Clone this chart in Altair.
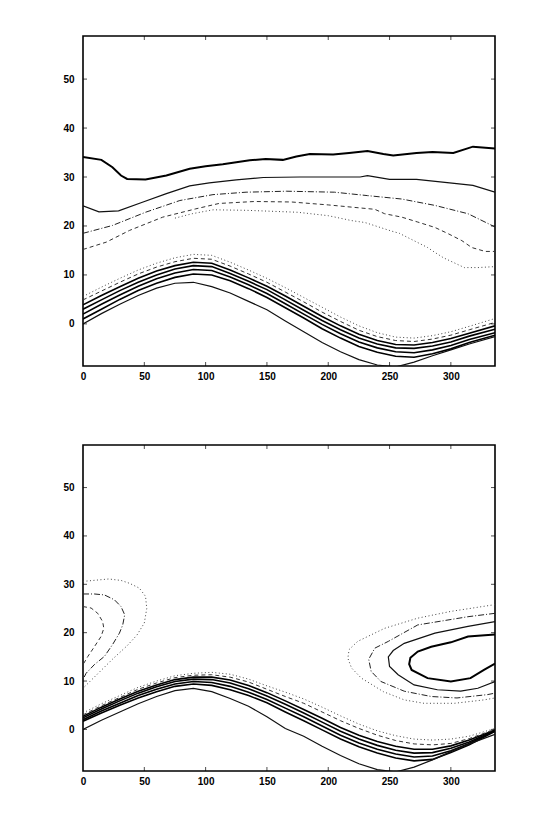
import altair as alt
import pandas as pd

# ---------------- data ----------------
XG = [0, 15, 30, 45, 60, 75, 90, 105, 120, 135, 150, 165, 180, 195, 210, 225, 240, 255, 270, 285, 300, 315, 336]
X_TICKS = [0, 50, 100, 150, 200, 250, 300]
Y_TICKS = [0, 10, 20, 30, 40, 50]

# top panel, upper contours
T_L1_X = [0, 15, 24, 31, 36, 51, 68, 87, 100, 114, 136, 149, 163, 174, 185, 204, 217, 232, 245, 253, 272, 285, 302, 318, 336]
T_L1_V = [34.1, 33.5, 32.0, 30.3, 29.6, 29.5, 30.3, 31.7, 32.2, 32.6, 33.4, 33.7, 33.5, 34.2, 34.7, 34.6, 34.9, 35.3, 34.7, 34.4, 34.9, 35.1, 34.9, 36.2, 35.8]
T_L2_X = [0, 13, 29, 49, 68, 87, 103, 125, 147, 177, 226, 232, 250, 272, 299, 318, 336]
T_L2_V = [24.1, 22.9, 23.1, 24.9, 26.6, 28.2, 28.8, 29.4, 29.9, 30.0, 30.0, 30.3, 29.5, 29.5, 28.8, 28.3, 26.9]
T_L3_X = [0, 24, 51, 79, 106, 133, 166, 205, 232, 260, 287, 314, 336]
T_L3_V = [18.5, 20.1, 22.8, 25.2, 26.4, 26.9, 27.1, 26.9, 26.2, 25.5, 24.2, 22.5, 19.8]
T_L4_X = [0, 19, 38, 65, 92, 111, 140, 170, 200, 238, 246, 260, 273, 287, 298, 309, 317, 328, 336]
T_L4_V = [15.2, 16.7, 19.1, 21.8, 23.5, 24.6, 25.0, 24.9, 24.3, 23.4, 22.5, 21.8, 20.8, 19.7, 18.4, 17.0, 15.6, 14.8, 14.8]
T_L5_X = [75, 89, 106, 133, 175, 200, 219, 230, 251, 258, 281, 287, 294, 311, 322, 336]
T_L5_V = [21.6, 22.5, 23.3, 23.2, 22.8, 22.1, 21.1, 20.7, 19.0, 18.5, 15.6, 14.6, 13.5, 11.5, 11.5, 11.7]

# top panel, wave bundle (values at XG)
T_A = [0.0, 2.1, 4.0, 5.8, 7.3, 8.3, 8.5, 7.6, 6.3, 4.6, 2.9, 0.6, -1.6, -3.8, -5.7, -7.3, -8.4, -8.8, -7.8, -6.5, -5.3, -4.1, -2.6]
T_B = [1.0, 3.0, 5.0, 6.8, 8.3, 9.5, 10.2, 10.0, 8.8, 7.2, 5.4, 3.3, 1.2, -1.0, -2.9, -4.6, -5.8, -6.6, -6.8, -6.1, -5.1, -3.8, -2.3]
T_C = [2.0, 4.0, 5.9, 7.7, 9.2, 10.4, 11.1, 10.9, 9.6, 8.0, 6.2, 4.1, 2.0, -0.1, -2.0, -3.7, -4.9, -5.7, -5.9, -5.3, -4.4, -3.2, -1.8]
T_D = [3.0, 4.9, 6.8, 8.5, 10.0, 11.2, 11.9, 11.7, 10.3, 8.7, 7.0, 4.9, 2.8, 0.7, -1.2, -2.9, -4.1, -4.9, -5.0, -4.5, -3.7, -2.5, -1.1]
T_E = [3.9, 5.8, 7.6, 9.3, 10.8, 11.9, 12.6, 12.4, 11.0, 9.4, 7.7, 5.7, 3.6, 1.5, -0.4, -2.1, -3.4, -4.2, -4.3, -3.8, -3.0, -1.9, -0.4]
T_F = [4.9, 6.7, 8.5, 10.2, 11.6, 12.7, 13.4, 13.2, 11.8, 10.2, 8.5, 6.5, 4.5, 2.4, 0.5, -1.3, -2.6, -3.4, -3.6, -3.1, -2.3, -1.2, 0.3]
T_G = [5.6, 7.5, 9.3, 11.0, 12.4, 13.5, 14.2, 14.0, 12.6, 11.0, 9.3, 7.4, 5.4, 3.4, 1.4, -0.4, -1.8, -2.7, -2.9, -2.4, -1.6, -0.5, 1.1]

# bottom panel, wave bundle (values at XG)
B_A = [0.0, 1.9, 3.6, 5.3, 6.8, 8.0, 8.5, 7.8, 6.4, 4.8, 2.6, 0.2, -1.4, -3.5, -5.4, -7.1, -8.3, -8.8, -7.8, -6.3, -4.6, -3.0, -1.0]
B_B = [1.7, 3.4, 5.0, 6.5, 7.8, 8.9, 9.4, 9.1, 8.2, 7.0, 5.5, 3.6, 1.8, -0.1, -2.0, -3.6, -4.9, -5.9, -6.5, -6.2, -4.8, -3.2, -0.4]
B_C = [2.0, 3.8, 5.4, 7.0, 8.3, 9.4, 9.9, 9.7, 8.9, 7.7, 6.2, 4.4, 2.6, 0.7, -1.2, -2.8, -4.1, -5.1, -5.7, -5.5, -4.4, -2.9, -0.3]
B_D = [2.4, 4.2, 5.9, 7.5, 8.8, 9.9, 10.4, 10.3, 9.6, 8.4, 6.9, 5.2, 3.4, 1.5, -0.4, -2.0, -3.3, -4.3, -4.9, -4.8, -3.9, -2.6, -0.2]
B_E = [2.7, 4.6, 6.3, 7.9, 9.2, 10.3, 10.8, 10.8, 10.2, 9.1, 7.6, 5.9, 4.1, 2.3, 0.4, -1.2, -2.5, -3.5, -4.1, -4.1, -3.4, -2.2, -0.1]
B_F = [3.0, 4.9, 6.6, 8.3, 9.6, 10.7, 11.2, 11.3, 10.8, 9.8, 8.3, 6.8, 5.4, 3.6, 1.8, 0.2, -1.2, -2.3, -3.0, -3.2, -2.9, -1.9, 0.0]
B_G = [3.4, 5.3, 7.0, 8.7, 10.0, 11.1, 11.6, 11.8, 11.4, 10.4, 9.0, 7.7, 6.3, 4.6, 2.8, 1.1, -0.3, -1.3, -2.0, -2.2, -2.0, -1.4, 0.2]

# bottom panel, contours at the left edge
BL1_X = [0, 6.6, 12, 16, 17, 14.7, 9.3, 4, 0]
BL1_V = [25.4, 25.1, 24.0, 22.3, 20.9, 19.2, 17.1, 15.1, 13.4]
BL2_X = [0, 9.3, 17.5, 25.6, 31, 34, 32.4, 29.7, 24, 17.5, 9.3, 2.5, 0]
BL2_V = [28.0, 28.0, 27.8, 26.8, 25.4, 23.7, 21.6, 19.9, 17.5, 15.1, 13.4, 11.6, 10.3]
BL3_X = [0, 21, 31, 38, 46, 51, 52, 50, 44, 36, 24, 12, 0]
BL3_V = [30.6, 31.1, 30.8, 30.2, 29.2, 27.5, 25.0, 22.0, 19.5, 17.3, 14.5, 11.5, 8.5]

# bottom panel, contours at the right edge
BR1_X = [336, 314, 300, 284, 273, 267, 266, 268, 281, 300, 316, 327, 336]
BR1_V = [19.6, 19.2, 18.0, 17.1, 16.1, 14.8, 13.5, 12.3, 10.6, 9.9, 10.6, 12.3, 13.6]
BR2_X = [336, 314, 287, 262, 253, 249, 250, 257, 270, 289, 308, 322, 336]
BR2_V = [22.3, 21.3, 19.9, 17.8, 16.3, 15.0, 13.0, 11.3, 9.2, 8.2, 7.9, 8.5, 9.9]
BR3_X = [336, 314, 273, 249, 238, 233, 235, 243, 262, 284, 305, 330, 336]
BR3_V = [24.0, 23.3, 21.6, 18.2, 16.8, 14.5, 12.0, 9.9, 7.9, 6.8, 6.5, 7.2, 7.5]
BR4_X = [336, 300, 273, 246, 224, 217, 216, 219, 227, 245, 262, 278, 303, 327, 336]
BR4_V = [25.8, 24.4, 23.0, 20.9, 18.2, 16.5, 14.7, 12.7, 10.6, 7.8, 6.1, 5.4, 5.4, 6.1, 6.5]

# ---------------- styles ----------------
STYLES = {
    "thick":   dict(strokeWidth=2.0, color="#000000"),
    "bold":    dict(strokeWidth=1.6, color="#000000"),
    "solid":   dict(strokeWidth=1.2, color="#111111"),
    "dashdot": dict(strokeWidth=1.0, color="#222222", strokeDash=[6, 2, 1, 2]),
    "dash":    dict(strokeWidth=1.0, color="#333333", strokeDash=[4, 3]),
    "dot":     dict(strokeWidth=1.0, color="#444444", strokeDash=[1, 2.5]),
}

X_DOMAIN = [0, 336]
Y_DOMAIN = [-8.6, 58.8]


def build(lines):
    rows = []
    for name, xs, vs, style in lines:
        for i, (x, v) in enumerate(zip(xs, vs)):
            rows.append({"line": name, "i": i, "x": x, "v": v, "style": style})
    return pd.DataFrame(rows)


top_df = build([
    ("L1", T_L1_X, T_L1_V, "thick"),
    ("L2", T_L2_X, T_L2_V, "solid"),
    ("L3", T_L3_X, T_L3_V, "dashdot"),
    ("L4", T_L4_X, T_L4_V, "dash"),
    ("L5", T_L5_X, T_L5_V, "dot"),
    ("A", XG, T_A, "solid"),
    ("B", XG, T_B, "bold"),
    ("C", XG, T_C, "bold"),
    ("D", XG, T_D, "bold"),
    ("E", XG, T_E, "bold"),
    ("F", XG, T_F, "dash"),
    ("G", XG, T_G, "dot"),
])

bot_df = build([
    ("A", XG, B_A, "solid"),
    ("B", XG, B_B, "bold"),
    ("C", XG, B_C, "bold"),
    ("D", XG, B_D, "bold"),
    ("E", XG, B_E, "bold"),
    ("F", XG, B_F, "dash"),
    ("G", XG, B_G, "dot"),
    ("BL1", BL1_X, BL1_V, "dash"),
    ("BL2", BL2_X, BL2_V, "dashdot"),
    ("BL3", BL3_X, BL3_V, "dot"),
    ("BR1", BR1_X, BR1_V, "thick"),
    ("BR2", BR2_X, BR2_V, "solid"),
    ("BR3", BR3_X, BR3_V, "dashdot"),
    ("BR4", BR4_X, BR4_V, "dot"),
])

xscale = alt.Scale(domain=X_DOMAIN, nice=False, zero=False)
yscale = alt.Scale(domain=Y_DOMAIN, nice=False, zero=False)
xaxis = alt.Axis(values=X_TICKS, title=None, grid=False, ticks=False, domain=False,
                 labelPadding=5, labelFlush=False)
yaxis = alt.Axis(values=Y_TICKS, title=None, grid=False, ticks=False, domain=False,
                 labelPadding=9)


def panel(df, height):
    layers = []
    for style, props in STYLES.items():
        sub = df[df["style"] == style]
        if sub.empty:
            continue
        layers.append(
            alt.Chart(sub).mark_line(clip=True, interpolate="linear", **props).encode(
                x=alt.X("x:Q", scale=xscale, axis=xaxis),
                y=alt.Y("v:Q", scale=yscale, axis=yaxis),
                detail="line:N",
                order="i:Q",
            )
        )
    xt = pd.DataFrame({"x": X_TICKS[1:]})
    yt = pd.DataFrame({"v": Y_TICKS})
    for yv in Y_DOMAIN:
        layers.append(
            alt.Chart(xt).mark_tick(orient="vertical", size=8, thickness=1, clip=True, color="black").encode(
                x=alt.X("x:Q", scale=xscale, axis=xaxis),
                y=alt.Y(datum=yv, scale=yscale, axis=yaxis),
            )
        )
    for xv in X_DOMAIN:
        layers.append(
            alt.Chart(yt).mark_tick(orient="horizontal", size=8, thickness=1, clip=True, color="black").encode(
                y=alt.Y("v:Q", scale=yscale, axis=yaxis),
                x=alt.X(datum=xv, scale=xscale, axis=xaxis),
            )
        )
    return alt.layer(*layers).properties(width=412, height=height)


chart = alt.vconcat(panel(top_df, 330), panel(bot_df, 326), spacing=62).properties(
    padding={"left": 62, "top": 35, "right": 10, "bottom": 10},
    background="white",
).configure_view(
    stroke="black", strokeWidth=1.6
).configure_axis(
    labelFont="Liberation Sans", labelFontWeight="bold", labelFontSize=10, labelColor="black"
)

chart.save("out.html", embed_options={"renderer": "svg", "actions": False})
